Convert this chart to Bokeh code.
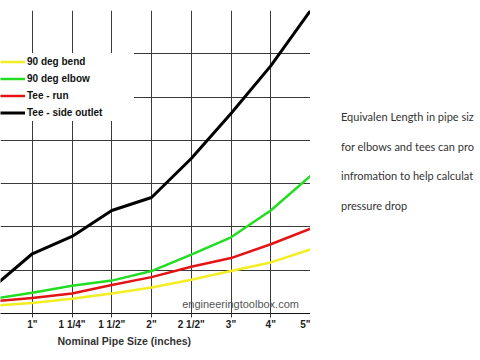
from bokeh.plotting import figure
from bokeh.models import Range1d, FixedTicker, Label, Title, Div
from bokeh.layouts import row
from bokeh.embed import file_html
from bokeh.resources import INLINE

sizes = ['3/4"', '1"', '1 1/4"', '1 1/2"', '2"', '2 1/2"', '3"', '4"', '5"']
bend = [0.9, 1.2, 1.7, 2.3, 3.0, 3.9, 4.9, 5.9, 7.4]
elbow = [1.7, 2.4, 3.2, 3.8, 4.9, 6.8, 8.8, 11.9, 15.9]
tee_run = [1.4, 1.8, 2.3, 3.3, 4.2, 5.4, 6.4, 8.0, 9.8]
tee_side = [3.0, 6.9, 8.9, 11.9, 13.4, 17.9, 23.1, 28.6, 35.0]
y_ticks = [0, 5, 10, 15, 20, 25, 30, 35]
note_lines = ["Equivalen Length in pipe siz", "for elbows and tees can pro",
              "infromation to help calculat", "pressure drop"]

idx = list(range(len(sizes)))

p = figure(width=310, height=360, output_backend="svg", toolbar_location=None,
           x_range=Range1d(0.2, 8.0), y_range=Range1d(0, 35),
           min_border_left=0, min_border_right=0, min_border_top=10,
           min_border_bottom=47)
p.outline_line_color = None
p.background_fill_color = "white"
p.border_fill_color = "white"

gc = "#3a3a3a"
p.xgrid.ticker = FixedTicker(ticks=idx)
p.ygrid.ticker = FixedTicker(ticks=y_ticks)
for g in (p.xgrid, p.ygrid):
    g.grid_line_color = gc
    g.grid_line_width = 1

p.yaxis.visible = False
ax = p.xaxis[0]
ax.ticker = FixedTicker(ticks=idx)
ax.major_label_overrides = {i: s for i, s in zip(idx, sizes)}
ax.major_label_text_font = "Liberation Sans"
ax.major_label_text_font_style = "bold"
ax.major_label_text_font_size = "10px"
ax.major_label_text_color = "#222222"
ax.major_label_standoff = 1
ax.major_tick_in = 0
ax.major_tick_out = 4
ax.major_tick_line_color = gc
ax.minor_tick_line_color = None
ax.axis_line_color = "#111111"

series = [("90 deg bend", bend, "#f2ee22", 2.5),
          ("90 deg elbow", elbow, "#22dd22", 2.5),
          ("Tee - run", tee_run, "#e41414", 2.5),
          ("Tee - side outlet", tee_side, "#000000", 3)]
for name, vals, col, w in series:
    p.line(idx, vals, line_color=col, line_width=w, line_join="round",
           legend_label=name)

lg = p.legend[0]
lg.location = (0, 192)
lg.margin = 0
lg.padding = 0
lg.spacing = 0
lg.label_height = 17
lg.glyph_height = 17
lg.glyph_width = 25
lg.label_standoff = 2
lg.label_width = 107
lg.background_fill_color = "white"
lg.background_fill_alpha = 1
lg.border_line_color = None
lg.label_text_font = "Liberation Sans"
lg.label_text_font_style = "bold"
lg.label_text_font_size = "10px"
lg.label_text_color = "#111111"

p.add_layout(Title(text="Nominal Pipe Size (inches)", align="left", offset=57,
                   standoff=0, text_font="Liberation Sans",
                   text_font_style="bold", text_font_size="10.5px",
                   text_color="#333333"), "below")
p.add_layout(Label(x=6.24, y=1.15, text="engineeringtoolbox.com",
                   text_align="center", text_baseline="middle",
                   text_font="Liberation Sans", text_font_size="11px",
                   text_color="#555555"))

html_lines = "".join(
    f'<div style="height:29.7px;line-height:29.7px;">{t}</div>' for t in note_lines)
note = Div(text=f'<div style="padding-top:97px;padding-left:26px;'
                f'font-family:Lato;font-size:11px;color:#333333;'
                f'white-space:nowrap;">{html_lines}</div>',
           width=170, height=360)

layout = row(p, note)
open("out.html", "w").write(file_html(layout, INLINE))
